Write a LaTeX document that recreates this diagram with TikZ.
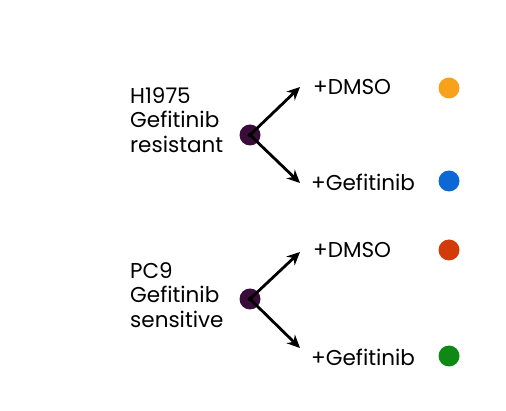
\documentclass[tikz,border=0pt]{standalone}
\usepackage{fontspec}
\setmainfont{Poppins}
\usetikzlibrary{arrows.meta}
\definecolor{cpurple}{RGB}{58,12,58}
\definecolor{corange}{RGB}{248,162,28}
\definecolor{cblue}{RGB}{12,104,212}
\definecolor{cred}{RGB}{210,58,10}
\definecolor{cgreen}{RGB}{14,138,20}
\begin{document}
\begin{tikzpicture}[x=1pt,y=-1pt,
  hub/.style={circle,fill=cpurple,minimum size=21pt,inner sep=0pt},
  mark dot/.style={circle,minimum size=21pt,inner sep=0pt},
  lbl/.style={font=\fontsize{21.5}{24}\selectfont,inner sep=0pt,anchor=west},
  cell/.style={font=\fontsize{21.5}{24.5}\selectfont,align=left,inner sep=0pt,anchor=west},
  arr/.style={-{Stealth[length=13pt,width=12pt]},line width=2.8pt,shorten <=-2pt}]
\useasboundingbox (0,0) rectangle (506,411);
\node[hub] (h1) at (250,135) {};
\node[hub] (h2) at (250,299) {};
\coordinate (a1) at (300,87);
\coordinate (b1) at (300,183);
\coordinate (a2) at (300,252);
\coordinate (b2) at (300,348);
\draw[arr] (h1.center) -- (a1);
\draw[arr] (h1.center) -- (b1);
\draw[arr] (h2.center) -- (a2);
\draw[arr] (h2.center) -- (b2);
\node[cell] (t1) at (130,120) {H1975\\Gefitinib\\resistant};
\node[cell] (t2) at (130,295) {PC9\\Gefitinib\\sensitive};
\node[lbl] (d1) at (313,87) {+DMSO};
\node[lbl] (g1) at (311,182) {+Gefitinib};
\node[lbl] (d2) at (313,250) {+DMSO};
\node[lbl] (g2) at (311,357) {+Gefitinib};
\node[mark dot,fill=corange] (o1) at (449,88) {};
\node[mark dot,fill=cblue] (o2) at (449,181) {};
\node[mark dot,fill=cred] (o3) at (449,250) {};
\node[mark dot,fill=cgreen] (o4) at (449,356) {};
\end{tikzpicture}
\end{document}
